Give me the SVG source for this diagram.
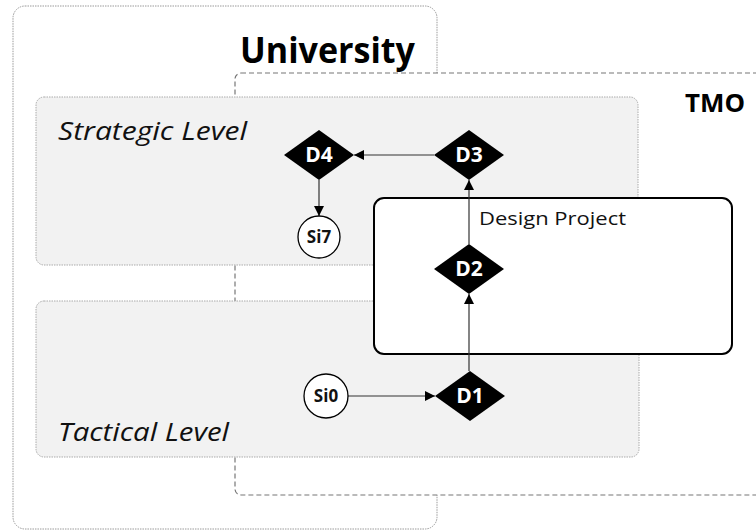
<svg xmlns="http://www.w3.org/2000/svg" width="756" height="531" viewBox="0 0 756 531">
<defs>
<style>
.univ{fill:#fff;stroke:#9a9a9a;stroke-width:1;stroke-dasharray:1.5 1}
.tmo{fill:#fff;stroke:#777;stroke-width:1.2;stroke-dasharray:5 3}
.level{fill:#f2f2f2;stroke:#aaa;stroke-width:1;stroke-dasharray:1.5 1}
.proj{fill:#fff;stroke:#000;stroke-width:2}
.dia{fill:#000}
.circ{fill:#fff;stroke:#000;stroke-width:1.3}
.dl{font-family:"Open Sans","Noto Sans",sans-serif;font-weight:bold;font-size:21px;fill:#fff;text-anchor:middle}
.cl{font-family:"Open Sans","Noto Sans",sans-serif;font-weight:bold;font-size:17px;fill:#111;text-anchor:middle}
.lvl{font-family:"Open Sans","Noto Sans",sans-serif;font-style:italic;font-size:25px;fill:#111}
.big{font-family:"Open Sans","Noto Sans",sans-serif;font-weight:bold;fill:#000}
.conn{stroke:#333;stroke-width:1.2;fill:none;marker-end:url(#ah)}
</style>
<marker id="ah" markerUnits="userSpaceOnUse" markerWidth="12" markerHeight="12" refX="10" refY="5" orient="auto">
<path d="M0,0 L10,5 L0,10 z" fill="#000"/>
</marker>
</defs>
<g id="university">
<rect class="univ" x="13" y="6" width="424" height="523" rx="12"/>
<text class="big" x="240" y="63" font-size="36" textLength="175" lengthAdjust="spacingAndGlyphs">University</text>
</g>
<g id="tmo">
<rect class="tmo" x="235" y="73" width="540" height="422" rx="6"/>
<text class="big" x="685" y="112" font-size="25" textLength="60" lengthAdjust="spacingAndGlyphs">TMO</text>
</g>
<g id="strategic-level">
<rect class="level" x="36" y="97" width="602" height="168" rx="8"/>
<text class="lvl" x="58" y="140" textLength="189" lengthAdjust="spacingAndGlyphs">Strategic Level</text>
</g>
<g id="tactical-level">
<rect class="level" x="36" y="301" width="603" height="156" rx="8"/>
<text class="lvl" x="58" y="441" textLength="171" lengthAdjust="spacingAndGlyphs">Tactical Level</text>
</g>
<g id="design-project">
<rect class="proj" x="374" y="198" width="358" height="156" rx="10"/>
<text x="479" y="225" font-family="'Open Sans','Noto Sans',sans-serif" font-size="19" fill="#111" textLength="147" lengthAdjust="spacingAndGlyphs">Design Project</text>
</g>
<g id="connectors">
<line class="conn" x1="434" y1="155" x2="354" y2="155"/>
<line class="conn" x1="319" y1="180" x2="319" y2="216"/>
<line class="conn" x1="348" y1="396" x2="435" y2="396"/>
<line class="conn" x1="469" y1="371" x2="469" y2="294"/>
<line class="conn" x1="469" y1="244" x2="469" y2="180"/>
</g>
<g id="D4">
<polygon class="dia" points="319,130 354,155 319,180 284,155"/>
<text class="dl" x="319" y="162">D4</text>
</g>
<g id="D3">
<polygon class="dia" points="469,130 504,155 469,180 434,155"/>
<text class="dl" x="469" y="162">D3</text>
</g>
<g id="D2">
<polygon class="dia" points="469,244 504,269 469,294 434,269"/>
<text class="dl" x="469" y="276">D2</text>
</g>
<g id="D1">
<polygon class="dia" points="470,371 505,396 470,421 435,396"/>
<text class="dl" x="470" y="403">D1</text>
</g>
<g id="Si7">
<circle class="circ" cx="319" cy="237" r="21"/>
<text class="cl" x="319" y="243">Si7</text>
</g>
<g id="Si0">
<circle class="circ" cx="326" cy="396" r="22"/>
<text class="cl" x="326" y="402">Si0</text>
</g>
</svg>
